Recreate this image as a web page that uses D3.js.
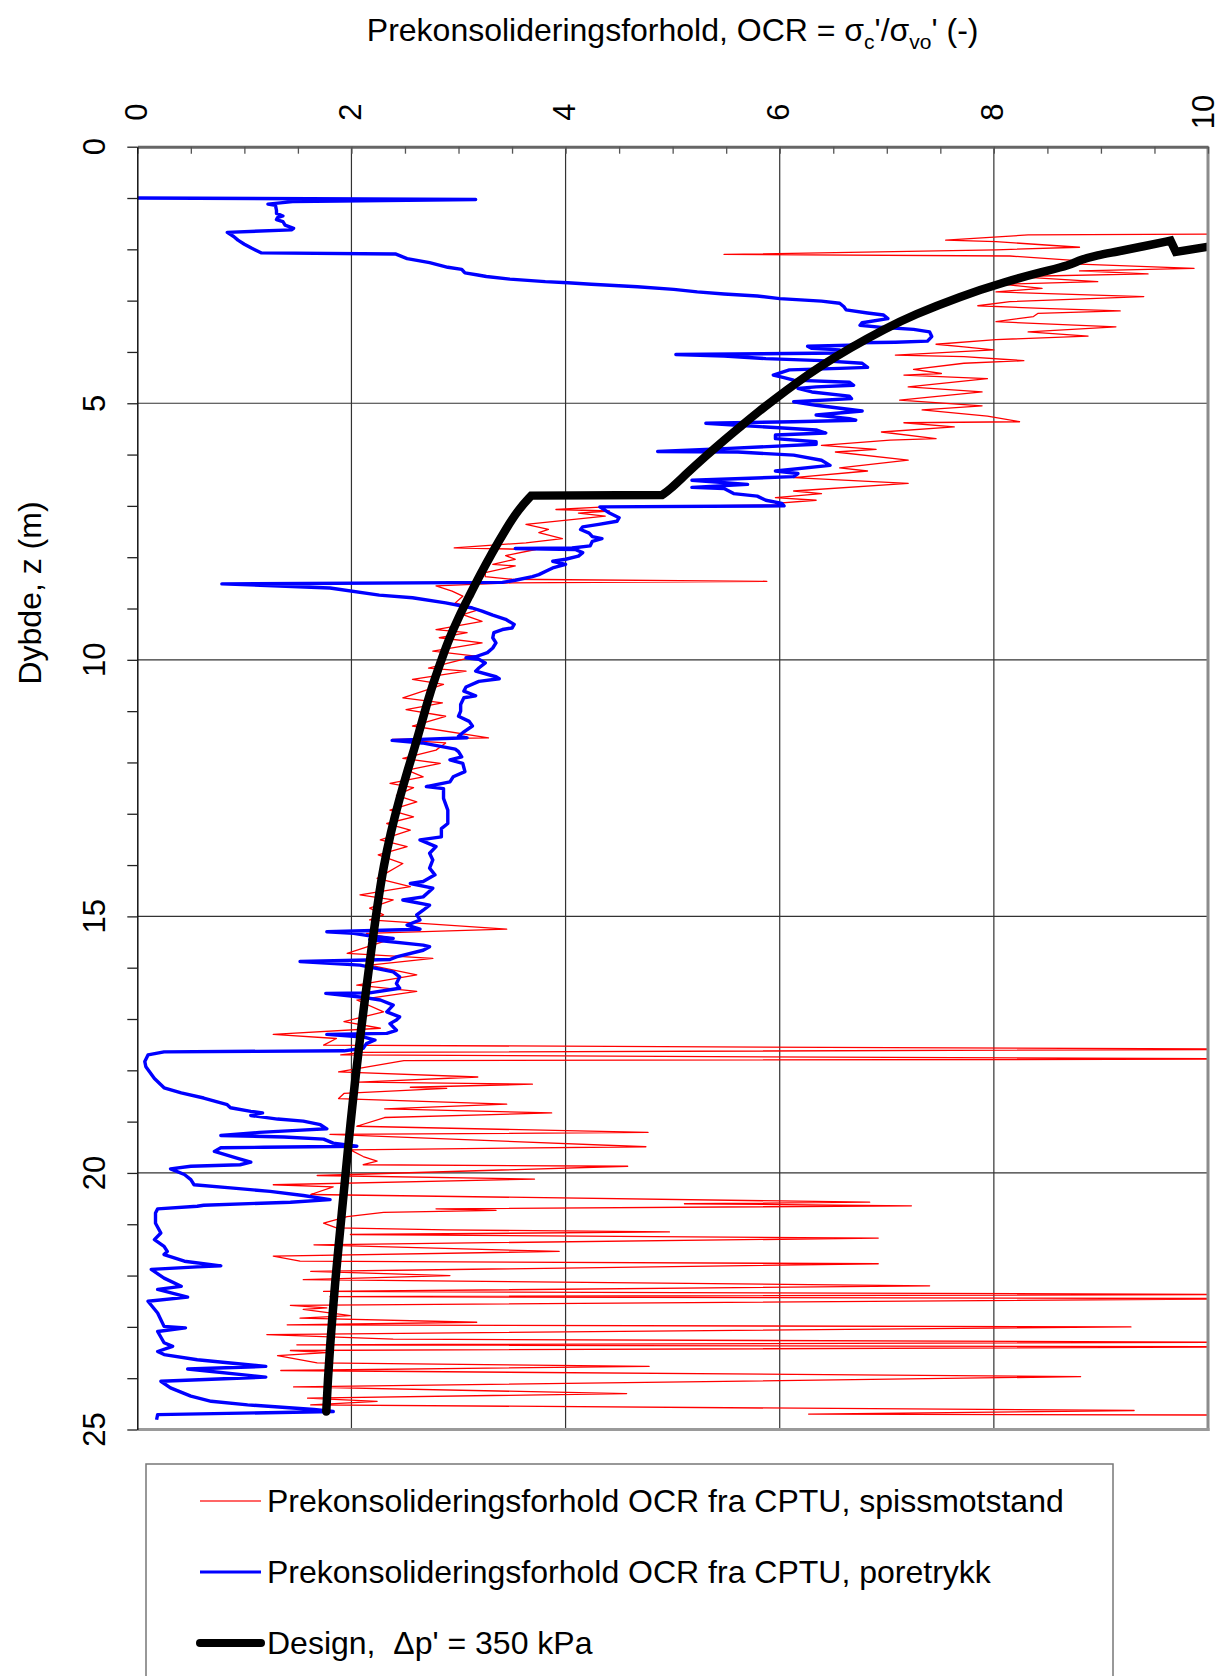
<!DOCTYPE html>
<html>
<head>
<meta charset="utf-8">
<script src="https://cdn.jsdelivr.net/npm/d3@7"></script>
<style>
  body { margin: 0; background: #fff; }
  svg { display: block; }
  text { font-family: "Liberation Sans", Arial, sans-serif; fill: #000; white-space: pre; }
</style>
</head>
<body>
<svg id="chart" width="1221" height="1676"></svg>
<script>
// Axis tick labels
const ocrTicks = [0, 2, 4, 6, 8, 10];
const depthTicks = [0, 5, 10, 15, 20, 25];

// OCR from CPTU, cone resistance: [OCR, depth (m)]
const ocrSpissmotstand = [
  [10.6,1.70],[8.32,1.72],[7.55,1.82],[8.02,1.85],[8.80,1.96],[8.02,2.01],[5.48,2.10],[8.15,2.13],
  [8.71,2.21],[8.80,2.29],[9.87,2.37],[8.80,2.42],[9.44,2.48],[8.19,2.53],[8.97,2.63],[8.07,2.68],
  [8.45,2.76],[8.02,2.83],[9.40,2.92],[8.15,3.02],[7.85,3.10],[8.45,3.15],[9.18,3.20],[8.41,3.25],
  [8.37,3.31],[8.02,3.41],[9.14,3.51],[8.32,3.61],[8.88,3.69],[8.02,3.76],[7.46,3.85],[7.72,3.90],
  [8.00,3.96],[7.08,4.06],[7.72,4.09],[8.28,4.17],[7.72,4.22],[7.25,4.34],[7.51,4.42],[7.16,4.45],
  [7.94,4.52],[7.20,4.68],[7.89,4.78],[7.12,4.94],[7.89,5.05],[7.33,5.13],[7.94,5.25],[8.24,5.36],
  [7.16,5.38],[7.63,5.46],[6.95,5.56],[7.46,5.69],[7.03,5.72],[6.39,5.82],[6.90,5.90],[6.52,5.95],
  [7.20,6.11],[6.56,6.26],[6.82,6.32],[6.13,6.45],[7.20,6.56],[6.13,6.71],[6.39,6.76],[5.96,6.84],
  [6.34,6.89],[5.96,6.95],[6.02,6.98],[4.37,7.02],[3.91,7.07],[4.41,7.10],[4.12,7.14],[4.37,7.20],
  [3.63,7.36],[3.84,7.46],[3.75,7.52],[3.97,7.64],[3.63,7.72],[2.96,7.82],[3.72,7.85],[3.44,7.97],
  [3.53,8.04],[3.32,8.14],[3.53,8.17],[3.25,8.30],[3.25,8.38],[3.50,8.43],[5.88,8.47],[3.50,8.50],
  [2.79,8.56],[2.94,8.66],[3.04,8.76],[2.97,8.89],[3.19,9.02],[3.04,9.12],[3.22,9.25],[2.79,9.41],
  [3.08,9.47],[2.82,9.57],[3.22,9.67],[2.76,9.83],[3.16,9.93],[2.72,10.16],[3.07,10.22],[2.57,10.38],
  [2.86,10.48],[2.48,10.74],[2.85,10.84],[2.51,10.97],[2.88,11.10],[2.57,11.29],[3.28,11.52],[2.38,11.55],
  [2.88,11.62],[2.79,11.76],[2.48,11.92],[2.83,12.02],[2.52,12.15],[2.67,12.28],[2.36,12.41],[2.58,12.49],
  [2.42,12.64],[2.61,12.77],[2.36,12.93],[2.58,13.06],[2.33,13.19],[2.55,13.32],[2.27,13.51],[2.52,13.64],
  [2.25,13.80],[2.48,13.97],[2.24,14.26],[2.55,14.42],[2.08,14.58],[2.39,14.68],[2.17,14.84],[2.30,14.97],
  [2.17,15.07],[3.45,15.25],[2.14,15.33],[2.39,15.43],[1.96,15.72],[2.76,15.82],[2.17,15.95],[2.61,16.14],
  [2.05,16.34],[2.61,16.46],[2.05,16.63],[2.30,16.86],[1.93,17.05],[2.27,17.18],[1.27,17.30],[1.86,17.38],
  [1.74,17.51],[10.6,17.59],[2.10,17.65],[1.90,17.70],[10.6,17.78],[2.49,17.81],[1.88,18.03],[3.18,18.13],
  [2.07,18.23],[3.69,18.27],[2.55,18.33],[2.89,18.35],[1.93,18.45],[1.88,18.55],[3.45,18.66],[2.31,18.75],
  [3.87,18.83],[2.31,18.92],[2.05,19.09],[4.77,19.21],[1.80,19.25],[4.75,19.49],[1.99,19.55],[2.11,19.68],
  [2.24,19.77],[2.11,19.84],[4.58,19.87],[1.68,20.05],[3.71,20.12],[1.27,20.23],[1.83,20.27],[1.62,20.42],
  [6.84,20.57],[5.11,20.60],[7.23,20.64],[2.79,20.70],[3.35,20.73],[2.30,20.77],[1.96,20.85],[1.74,20.98],
  [1.86,21.07],[2.89,21.11],[4.97,21.15],[1.99,21.20],[6.92,21.27],[1.65,21.40],[3.94,21.53],[1.27,21.62],
  [1.52,21.72],[6.92,21.77],[1.62,21.92],[2.92,22.00],[1.55,22.08],[7.40,22.20],[1.74,22.31],[10.6,22.37],
  [1.80,22.41],[10.6,22.45],[1.43,22.58],[1.77,22.63],[1.55,22.66],[1.99,22.78],[1.52,22.83],[3.17,22.91],
  [1.40,22.96],[9.28,23.00],[1.21,23.15],[2.39,23.24],[10.6,23.30],[1.49,23.35],[10.6,23.39],[1.43,23.46],
  [1.77,23.50],[1.31,23.56],[1.68,23.70],[4.78,23.77],[1.34,23.85],[8.81,23.97],[1.46,24.17],[4.57,24.30],
  [1.59,24.39],[2.24,24.45],[1.62,24.52],[9.31,24.63],[6.27,24.70],[10.6,24.72]
];

// OCR from CPTU, pore pressure: [OCR, depth (m)]
const ocrPoretrykk = [
  [0.00,1.00],[3.16,1.03],[1.45,1.07],[1.22,1.12],[1.29,1.14],[1.30,1.24],[1.30,1.30],[1.36,1.35],
  [1.31,1.38],[1.30,1.42],[1.36,1.46],[1.38,1.53],[1.46,1.59],[1.44,1.62],[0.84,1.67],[0.90,1.75],
  [0.94,1.82],[1.00,1.90],[1.07,1.98],[1.16,2.07],[2.41,2.09],[2.52,2.18],[2.73,2.26],[2.90,2.35],
  [3.03,2.39],[3.06,2.46],[3.18,2.50],[3.26,2.53],[3.48,2.58],[3.81,2.63],[4.02,2.65],[4.24,2.68],
  [4.67,2.73],[5.01,2.78],[5.23,2.83],[5.48,2.87],[5.79,2.91],[6.00,2.96],[6.39,3.01],[6.56,3.05],
  [6.60,3.12],[6.62,3.18],[6.82,3.24],[6.97,3.28],[7.01,3.35],[6.77,3.43],[6.75,3.48],[6.95,3.52],
  [7.25,3.56],[7.40,3.61],[7.42,3.70],[7.38,3.79],[7.08,3.81],[6.73,3.82],[6.65,3.87],[6.26,3.89],
  [6.30,3.93],[6.56,3.96],[6.56,4.02],[5.03,4.05],[5.48,4.08],[5.87,4.13],[6.39,4.17],[6.77,4.22],
  [6.82,4.30],[6.56,4.32],[6.09,4.35],[5.94,4.45],[6.04,4.50],[6.13,4.55],[6.65,4.59],[6.69,4.65],
  [6.34,4.68],[6.17,4.71],[6.30,4.78],[6.65,4.86],[6.67,4.91],[6.13,4.97],[6.34,5.04],[6.77,5.15],
  [6.34,5.23],[6.65,5.30],[6.71,5.33],[6.13,5.36],[5.31,5.39],[5.61,5.43],[6.34,5.52],[6.43,5.58],
  [5.96,5.62],[5.96,5.69],[6.34,5.75],[6.34,5.80],[5.53,5.88],[4.86,5.94],[5.61,5.95],[6.13,6.01],
  [6.39,6.11],[6.47,6.21],[5.96,6.32],[6.17,6.37],[6.13,6.43],[5.18,6.50],[5.70,6.58],[5.18,6.64],
  [5.48,6.66],[5.57,6.76],[5.79,6.81],[5.87,6.89],[6.02,6.95],[6.04,7.00],[4.32,7.02],[4.41,7.14],
  [4.50,7.23],[4.48,7.30],[4.31,7.36],[4.16,7.41],[4.14,7.46],[4.22,7.53],[4.25,7.60],[4.34,7.64],
  [4.25,7.69],[4.23,7.78],[4.06,7.82],[3.53,7.83],[4.09,7.85],[4.16,7.91],[4.12,7.98],[4.00,8.04],
  [3.88,8.08],[4.00,8.14],[3.88,8.21],[3.84,8.25],[3.75,8.34],[3.69,8.38],[3.53,8.45],[3.41,8.49],
  [0.79,8.52],[1.80,8.60],[2.26,8.74],[2.57,8.79],[2.88,8.89],[3.13,8.99],[3.22,9.05],[3.32,9.13],
  [3.44,9.21],[3.52,9.31],[3.50,9.38],[3.41,9.41],[3.33,9.47],[3.32,9.57],[3.35,9.67],[3.32,9.77],
  [3.27,9.86],[3.16,9.94],[3.07,9.96],[3.19,9.99],[3.25,10.06],[3.19,10.16],[3.16,10.22],[3.35,10.33],
  [3.38,10.37],[3.19,10.42],[3.07,10.53],[3.05,10.61],[3.16,10.70],[3.05,10.74],[3.02,10.87],[3.02,11.00],
  [3.00,11.10],[3.10,11.20],[3.13,11.29],[3.04,11.42],[3.00,11.49],[3.08,11.52],[2.38,11.57],[2.66,11.62],
  [2.97,11.74],[3.00,11.79],[3.03,11.89],[2.92,11.95],[3.04,12.02],[3.06,12.18],[2.95,12.28],[2.92,12.38],
  [2.70,12.47],[2.86,12.51],[2.86,12.70],[2.90,12.93],[2.90,13.19],[2.84,13.29],[2.84,13.45],[2.64,13.51],
  [2.79,13.64],[2.73,13.77],[2.76,13.90],[2.73,14.06],[2.78,14.19],[2.67,14.32],[2.55,14.36],[2.76,14.45],
  [2.67,14.62],[2.48,14.68],[2.73,14.78],[2.67,14.88],[2.61,14.97],[2.64,15.07],[2.52,15.17],[2.64,15.25],
  [1.77,15.30],[2.02,15.33],[2.17,15.38],[2.39,15.43],[2.17,15.45],[2.67,15.56],[2.73,15.59],[2.67,15.66],
  [2.42,15.79],[2.36,15.84],[1.52,15.88],[2.08,15.95],[2.39,16.08],[2.45,16.18],[2.42,16.31],[2.45,16.40],
  [2.17,16.49],[1.76,16.50],[2.08,16.57],[2.27,16.63],[2.39,16.73],[2.33,16.86],[2.45,16.96],[2.42,17.02],
  [2.36,17.09],[2.42,17.22],[2.33,17.28],[1.77,17.30],[2.11,17.35],[2.22,17.41],[2.14,17.48],[2.11,17.57],
  [1.93,17.62],[0.25,17.64],[0.10,17.70],[0.07,17.83],[0.08,17.93],[0.16,18.16],[0.25,18.34],[0.41,18.44],
  [0.62,18.54],[0.84,18.67],[0.87,18.73],[1.06,18.80],[1.17,18.83],[1.06,18.88],[1.31,18.95],[1.55,18.99],
  [1.71,19.06],[1.77,19.14],[1.49,19.17],[1.14,19.21],[0.78,19.27],[1.37,19.30],[1.74,19.34],[1.83,19.42],
  [2.05,19.48],[1.18,19.50],[0.78,19.51],[0.72,19.58],[0.93,19.71],[1.06,19.79],[0.96,19.84],[0.50,19.87],
  [0.31,19.92],[0.44,20.03],[0.50,20.13],[0.53,20.23],[0.87,20.29],[1.24,20.36],[1.55,20.44],[1.80,20.52],
  [1.43,20.57],[0.62,20.63],[0.56,20.65],[0.19,20.70],[0.17,20.78],[0.17,20.98],[0.22,21.17],[0.16,21.30],
  [0.25,21.43],[0.28,21.53],[0.25,21.59],[0.44,21.72],[0.78,21.81],[0.56,21.83],[0.13,21.88],[0.25,22.05],
  [0.41,22.21],[0.19,22.27],[0.47,22.42],[0.10,22.50],[0.19,22.73],[0.25,22.99],[0.45,23.02],[0.19,23.09],
  [0.25,23.31],[0.33,23.38],[0.19,23.48],[0.25,23.54],[0.56,23.64],[1.20,23.77],[0.47,23.82],[1.20,23.98],
  [0.22,24.06],[0.31,24.19],[0.50,24.35],[0.69,24.45],[1.03,24.52],[1.65,24.61],[1.83,24.65],[0.19,24.71],
  [0.18,24.81]
];

// Design profile, Δp' = 350 kPa: [OCR, depth (m)]
const ocrDesign = [
  [10.3,1.85],[9.70,2.05],[9.65,1.83],[9.40,1.94],[9.14,2.05],[8.97,2.11],[8.80,2.21],[8.71,2.31],
  [8.45,2.44],[8.11,2.63],[7.68,2.92],[7.25,3.28],[6.99,3.54],[6.65,3.93],[6.37,4.29],[6.15,4.61],
  [5.94,4.94],[5.78,5.20],[5.63,5.46],[5.48,5.72],[5.32,6.01],[5.13,6.37],[4.97,6.69],[4.90,6.79],
  [3.68,6.80],[3.56,7.07],[3.44,7.46],[3.315,7.91],[3.195,8.37],[3.10,8.76],[3.005,9.15],[2.91,9.60],
  [2.83,10.06],[2.755,10.51],[2.69,10.97],[2.63,11.42],[2.585,11.75],[2.535,12.08],[2.445,12.73],[2.365,13.38],
  [2.30,14.03],[2.25,14.68],[2.215,15.20],[2.165,15.98],[2.125,16.63],[2.085,17.28],[2.05,17.93],[2.015,18.55],
  [1.97,19.48],[1.94,20.13],[1.91,20.78],[1.88,21.43],[1.85,22.08],[1.825,22.73],[1.80,23.38],[1.78,24.03],
  [1.765,24.65]
];

const legendLabels = [
  "Prekonsolideringsforhold OCR fra CPTU, spissmotstand",
  "Prekonsolideringsforhold OCR fra CPTU, poretrykk",
  "Design,  Δp' = 350 kPa"
];

const svg = d3.select("#chart");
const plot = { left: 137.3, right: 1208, top: 146.7, bottom: 1429.5 };
const x = d3.scaleLinear().domain([0, 10]).range([plot.left, plot.right]);
const y = d3.scaleLinear().domain([0, 25]).range([plot.top, plot.bottom]);
const FS = 32;
const TICK_FS = 31;

// Title
const title = svg.append("text")
  .attr("x", (plot.left + plot.right) / 2).attr("y", 41)
  .attr("text-anchor", "middle").style("font-size", FS + "px");
title.append("tspan").text("Prekonsolideringsforhold, OCR = σ");
title.append("tspan").text("c").attr("dy", 8).style("font-size", "21px");
title.append("tspan").text("'/σ").attr("dy", -8);
title.append("tspan").text("vo").attr("dy", 8).style("font-size", "21px");
title.append("tspan").text("' (-)").attr("dy", -8);

// Grid lines
const grid = svg.append("g").attr("stroke", "#333").attr("stroke-width", 1.2);
grid.selectAll("line.v").data([2, 4, 6, 8]).join("line")
  .attr("x1", d => x(d)).attr("x2", d => x(d)).attr("y1", plot.top).attr("y2", plot.bottom);
grid.selectAll("line.h").data([5, 10, 15, 20]).join("line")
  .attr("x1", plot.left).attr("x2", plot.right).attr("y1", d => y(d)).attr("y2", d => y(d));

// Data
svg.append("clipPath").attr("id", "clip").append("rect")
  .attr("x", plot.left - 4).attr("y", plot.top)
  .attr("width", plot.right - plot.left + 4).attr("height", plot.bottom - plot.top + 4);
const line = d3.line().x(d => x(d[0])).y(d => y(d[1]));
const smoothLine = d3.line().x(d => x(d[0])).y(d => y(d[1])).curve(d3.curveBasis);
const data = svg.append("g").attr("clip-path", "url(#clip)");
data.append("path").datum(ocrSpissmotstand).attr("d", line)
  .attr("fill", "none").attr("stroke", "#ff0000").attr("stroke-width", 1.3).attr("stroke-linejoin", "round");
data.append("path").datum(ocrPoretrykk).attr("d", line)
  .attr("fill", "none").attr("stroke", "#0000ff").attr("stroke-width", 3.4).attr("stroke-linejoin", "round");

// Design profile: straight pieces at the top kink and the step at the layer change,
// smoothed pieces along the two curved branches, joined into one path.
const stepIdx = ocrDesign.findIndex((d, i) => i > 0 &&
  Math.abs(d[1] - ocrDesign[i - 1][1]) < 0.05 && Math.abs(d[0] - ocrDesign[i - 1][0]) > 0.5);
const pieces = [
  { pts: ocrDesign.slice(0, 3), gen: line },
  { pts: ocrDesign.slice(2, stepIdx), gen: smoothLine },
  { pts: ocrDesign.slice(stepIdx - 1, stepIdx + 1), gen: line },
  { pts: ocrDesign.slice(stepIdx), gen: smoothLine }
];
const designPath = pieces.map((p, i) => {
  const s = p.gen(p.pts);
  return i ? s.replace(/^M/, "L") : s;
}).join("");
data.append("path").attr("d", designPath)
  .attr("fill", "none").attr("stroke", "#000").attr("stroke-width", 8.5)
  .attr("stroke-linejoin", "miter").attr("stroke-linecap", "round");

// Frame: right and bottom edges
svg.append("line").attr("x1", plot.right).attr("x2", plot.right).attr("y1", plot.top).attr("y2", plot.bottom + 1.5)
  .attr("stroke", "#8c8c8c").attr("stroke-width", 3);
svg.append("line").attr("x1", plot.left).attr("x2", plot.right + 1.5).attr("y1", plot.bottom).attr("y2", plot.bottom)
  .attr("stroke", "#9a9a9a").attr("stroke-width", 3);

// Top OCR axis with minor ticks pointing into the plot
const xAxis = d3.axisTop(x).tickValues(d3.range(0, 10.01, 0.5)).tickSizeInner(-7).tickSizeOuter(0).tickFormat("");
const gx = svg.append("g").attr("transform", `translate(0,${plot.top})`).call(xAxis);
gx.select(".domain").attr("stroke", "#666").attr("stroke-width", 3);
gx.selectAll(".tick line").attr("stroke", "#555").attr("stroke-width", 1.3);

// Left depth axis with ticks pointing outward
const yAxis = d3.axisLeft(y).tickValues(d3.range(0, 25.01, 1)).tickSizeInner(10).tickSizeOuter(0).tickFormat("");
const gy = svg.append("g").attr("transform", `translate(${plot.left},0)`).call(yAxis);
gy.select(".domain").attr("stroke", "#111").attr("stroke-width", 1.5);
gy.selectAll(".tick line").attr("stroke", "#222").attr("stroke-width", 1.3);

// Rotated tick labels (the last one nudged inward so it stays on the page)
svg.append("g").selectAll("text").data(ocrTicks).join("text")
  .attr("transform", d => `translate(${Math.min(x(d) - 1.5, 1203)},112) rotate(-90)`)
  .attr("text-anchor", "middle").attr("dy", "0.35em").style("font-size", TICK_FS + "px")
  .text(d => d);
svg.append("g").selectAll("text").data(depthTicks).join("text")
  .attr("transform", d => `translate(94,${y(d)}) rotate(-90)`)
  .attr("text-anchor", "middle").attr("dy", "0.35em").style("font-size", TICK_FS + "px")
  .text(d => d);

// Depth axis title
svg.append("text").attr("transform", "translate(41,593) rotate(-90)")
  .attr("text-anchor", "middle").style("font-size", FS + "px").text("Dybde, z (m)");

// Legend
const lg = svg.append("g");
lg.append("rect").attr("x", 146).attr("y", 1464).attr("width", 967).attr("height", 260)
  .attr("fill", "#fff").attr("stroke", "#777").attr("stroke-width", 1.5);
const legendStyles = [
  { color: "#ff3333", width: 1.5 },
  { color: "#0000ff", width: 3 },
  { color: "#000", width: 8 }
];
const legendY = [1501, 1572, 1643];
legendLabels.forEach((label, i) => {
  lg.append("line").attr("x1", 200).attr("x2", 261).attr("y1", legendY[i]).attr("y2", legendY[i])
    .attr("stroke", legendStyles[i].color).attr("stroke-width", legendStyles[i].width)
    .attr("stroke-linecap", i === 2 ? "round" : "butt");
  lg.append("text").attr("x", 267).attr("y", legendY[i]).attr("dy", "0.35em")
    .style("font-size", FS + "px").text(label);
});
</script>
</body>
</html>
